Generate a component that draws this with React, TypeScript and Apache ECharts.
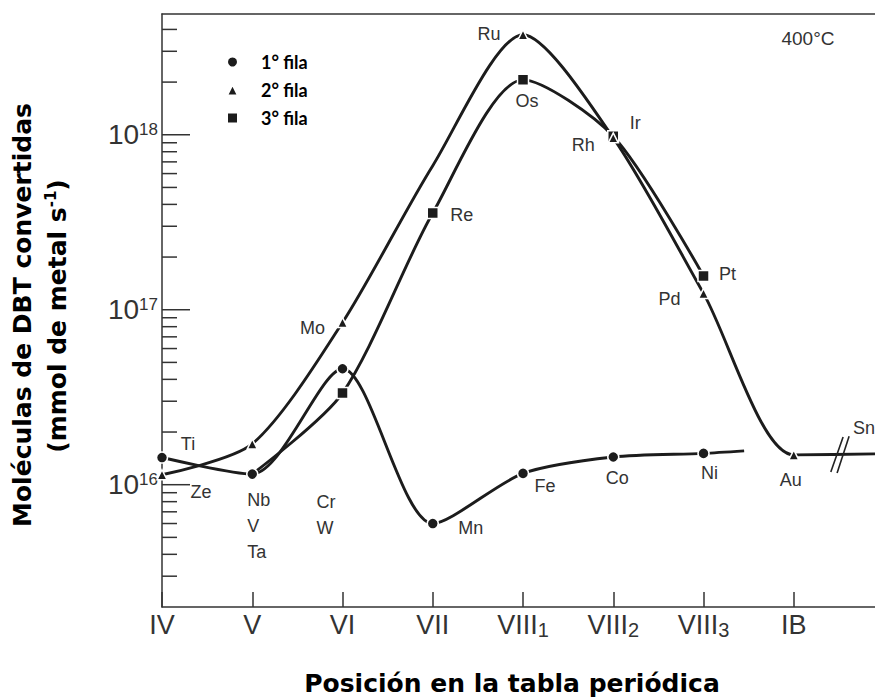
import React, { useEffect, useRef } from 'react';
import * as echarts from 'echarts';

// Groups of the periodic table (x axis)
const groupNames = ['IV', 'V', 'VI', 'VII', 'VIII', 'VIII', 'VIII', 'IB'];
const groupSubs = ['', '', '', '', '1', '2', '3', ''];
const groupPositions = [0, 1, 2, 3, 4, 5, 6, 7];

// 1° fila
const row1Pos = [0, 1, 2, 3, 4, 5, 6, 6.45];
const row1Values = [1.43e16, 1.15e16, 4.6e16, 6.0e15, 1.16e16, 1.44e16, 1.51e16, 1.56e16];
const row1Labels = ['Ti', 'Nb\nV\nTa', '', 'Mn', 'Fe', 'Co', 'Ni', ''];
const row1Hidden = [false, false, false, false, false, false, false, true];

// 2° fila
const row2Pos = [0, 1, 2, 3, 4, 5, 6, 7, 7.9];
const row2Values = [1.14e16, 1.71e16, 8.45e16, 6.66e17, 3.73e18, 9.6e17, 1.24e17, 1.48e16, 1.5e16];
const row2Labels = ['Ze', '', 'Mo', '', 'Ru', 'Rh', 'Pd', 'Au', 'Sn'];
const row2Hidden = [false, false, false, true, false, false, false, false, true];

// 3° fila
const row3Pos = [1, 2, 3, 4, 5, 6];
const row3Values = [1.15e16, 3.34e16, 3.57e17, 2.06e18, 9.8e17, 1.56e17];
const row3Labels = ['', 'Cr\nW', 'Re', 'Os', 'Ir', 'Pt'];
const row3Hidden = [true, false, false, false, false, false];

const seriesNames = ['1° fila', '2° fila', '3° fila'];

// axis extents
const X_MAX = 7.9;
const Y_MIN = 2e15;
const Y_MAX = 4.9e18;

// axis break mark
const breakPos = 7.51;
const breakValue = 1.49e16;

// label layout (pixel offsets from the point, and alignment)
const row1Offsets: any[] = [[26, -14], [-5, 52], null, [38, 4], [22, 13], [4, 21], [6, 20], null];
const row1Align = ['center', 'left', 'center', 'center', 'center', 'center', 'center', 'center'];
const row2Offsets: any[] = [[39, 17], null, [-30, 5], null, [-34, -1], [-30, 7], [-34, 6], [-3, 25], [-22, -26]];
const row2Align = ['center', 'center', 'center', 'center', 'center', 'center', 'center', 'center', 'left'];
const row3Offsets: any[] = [null, [-26, 122], [29, 2], [4, 21], [22, -13], [24, -2]];
const row3Align = ['center', 'left', 'center', 'center', 'center', 'center'];

const INK = '#1c1c1c';
const TEXT = '#333';

function buildData(pos: number[], vals: number[], labels: string[], offsets: any[], aligns: string[], hidden: boolean[]) {
  return pos.map((x, i) => {
    const item: any = { value: [x, vals[i]] };
    if (hidden[i]) {
      item.symbolSize = 1;
      item.itemStyle = { color: 'rgba(0,0,0,0)', borderWidth: 0 };
    }
    if (labels[i]) {
      item.label = {
        show: true,
        formatter: labels[i],
        position: 'inside',
        offset: offsets[i],
        align: aligns[i],
        verticalAlign: 'middle',
      };
    }
    return item;
  });
}

function yTickData() {
  const out: number[][] = [];
  for (let k = 15; k <= 18; k++) {
    for (let m = 1; m <= 9; m++) {
      const v = m * Math.pow(10, k);
      if (v > Y_MIN * 1.01 && v < Y_MAX) out.push([0, v, m === 1 ? 1 : 0]);
    }
  }
  return out;
}

export default function App() {
  const ref = useRef<HTMLDivElement>(null);
  useEffect(() => {
    document.body.style.margin = '0';
    const chart = echarts.init(ref.current!, null, { renderer: 'svg' });
    const labelBase = {
      show: false,
      color: TEXT,
      fontSize: 18,
      fontFamily: 'Liberation Sans, Arial, sans-serif',
      lineHeight: 26,
    };
    const lineBase = {
      type: 'line',
      smooth: 0.27,
      lineStyle: { color: INK, width: 2.9 },
      itemStyle: { color: INK, borderColor: '#fff', borderWidth: 1.5 },
      label: labelBase,
      emphasis: { disabled: true },
      z: 3,
    };
    const option: any = {
      animation: false,
      backgroundColor: '#fff',
      grid: { left: 162, right: 0, top: 14, bottom: 91, containLabel: false },
      legend: {
        data: [
          { name: seriesNames[0], icon: 'circle' },
          { name: seriesNames[1], icon: 'triangle' },
          { name: seriesNames[2], icon: 'rect' },
        ],
        orient: 'vertical',
        left: 221,
        top: 48,
        itemWidth: 11,
        itemHeight: 11,
        itemGap: 10,
        selectedMode: false,
        textStyle: {
          fontFamily: 'Lato, sans-serif',
          fontWeight: 'bold',
          fontSize: 18,
          color: '#000',
          lineHeight: 16,
          padding: [0, 0, 0, 18],
        },
      },
      xAxis: [
        {
          type: 'value',
          min: 0,
          max: X_MAX,
          interval: 1,
          position: 'bottom',
          splitLine: { show: false },
          axisLine: { show: true, lineStyle: { color: '#333', width: 1.5 } },
          axisTick: { show: true, inside: true, length: 15, customValues: groupPositions, lineStyle: { color: '#333', width: 1.5 } },
          axisLabel: {
            customValues: groupPositions,
            margin: 3,
            formatter: (v: number) => {
              const i = Math.round(v);
              if (Math.abs(v - i) > 1e-6 || i < 0 || i >= groupNames.length) return '';
              return groupSubs[i] ? `{m|${groupNames[i]}}{s|${groupSubs[i]}}` : `{m|${groupNames[i]}}`;
            },
            rich: {
              m: { fontSize: 27, lineHeight: 30, color: TEXT, fontFamily: 'Liberation Sans, Arial, sans-serif' },
              s: { fontSize: 20, lineHeight: 8, verticalAlign: 'bottom', color: TEXT, fontFamily: 'Liberation Sans, Arial, sans-serif' },
            },
          },
        },
        {
          type: 'value',
          min: 0,
          max: X_MAX,
          position: 'top',
          splitLine: { show: false },
          axisLine: { show: true, lineStyle: { color: '#333', width: 1.5 } },
          axisTick: { show: false },
          axisLabel: { show: false },
        },
      ],
      yAxis: {
        type: 'log',
        logBase: 10,
        min: Y_MIN,
        max: Y_MAX,
        splitLine: { show: false },
        axisLine: { show: true, lineStyle: { color: '#333', width: 1.5 } },
        axisTick: { show: false },
        axisLabel: {
          margin: 4,
          formatter: (v: number) => {
            const e = Math.log10(v);
            const r = Math.round(e);
            if (Math.abs(e - r) > 1e-6) return '';
            return `{b|10}{s|${r}}`;
          },
          rich: {
            b: { fontSize: 28, lineHeight: 28, color: TEXT, fontFamily: 'Liberation Sans, Arial, sans-serif' },
            s: { fontSize: 17, lineHeight: 16, verticalAlign: 'top', color: TEXT, fontFamily: 'Liberation Sans, Arial, sans-serif' },
          },
        },
      },
      series: [
        {
          ...lineBase,
          name: seriesNames[2],
          symbol: 'rect',
          symbolSize: 11,
          data: buildData(row3Pos, row3Values, row3Labels, row3Offsets, row3Align, row3Hidden),
        },
        {
          ...lineBase,
          name: seriesNames[1],
          symbol: 'triangle',
          symbolSize: 10,
          data: buildData(row2Pos, row2Values, row2Labels, row2Offsets, row2Align, row2Hidden),
        },
        {
          ...lineBase,
          name: seriesNames[0],
          symbol: 'circle',
          symbolSize: 11,
          data: buildData(row1Pos, row1Values, row1Labels, row1Offsets, row1Align, row1Hidden),
        },
        {
          type: 'custom',
          name: 'yticks',
          silent: true,
          clip: false,
          z: 4,
          data: yTickData(),
          renderItem: (params: any, api: any) => {
            const p = api.coord([0, api.value(1)]);
            const len = api.value(2) ? 28 : 15;
            return {
              type: 'line',
              shape: { x1: p[0], y1: p[1], x2: p[0] + len, y2: p[1] },
              style: { stroke: '#333', lineWidth: 1.5 },
            };
          },
        },
        {
          type: 'custom',
          name: 'break',
          silent: true,
          clip: false,
          z: 5,
          data: [[breakPos, breakValue]],
          renderItem: (params: any, api: any) => {
            const c = api.coord([api.value(0), api.value(1)]);
            const st = { stroke: '#222', lineWidth: 1.6 };
            return {
              type: 'group',
              children: [
                { type: 'line', shape: { x1: c[0] - 9, y1: c[1] + 17.5, x2: c[0] + 3.3, y2: c[1] - 17.5 }, style: st },
                { type: 'line', shape: { x1: c[0] - 2.7, y1: c[1] + 18.5, x2: c[0] + 9.3, y2: c[1] - 18.2 }, style: st },
              ],
            };
          },
        },
      ],
      graphic: [
        {
          type: 'text',
          x: 22,
          y: 315,
          rotation: Math.PI / 2,
          style: {
            text: 'Moléculas de DBT convertidas',
            font: 'bold 25px "DejaVu Sans", sans-serif',
            fill: '#000',
            align: 'center',
            verticalAlign: 'middle',
          },
        },
        {
          type: 'text',
          x: 57,
          y: 316,
          rotation: Math.PI / 2,
          style: {
            text: '{n|(mmol de metal s}{p|-1}{n|)}',
            align: 'center',
            verticalAlign: 'middle',
            rich: {
              n: { fontSize: 25, fontWeight: 'bold', fontFamily: 'DejaVu Sans, sans-serif', fill: '#000', lineHeight: 28 },
              p: { fontSize: 15, fontWeight: 'bold', fontFamily: 'DejaVu Sans, sans-serif', fill: '#000', verticalAlign: 'top', lineHeight: 16 },
            },
          },
        },
        {
          type: 'text',
          x: 512,
          y: 683,
          style: {
            text: 'Posición en la tabla periódica',
            font: 'bold 25px "DejaVu Sans", sans-serif',
            fill: '#000',
            align: 'center',
            verticalAlign: 'middle',
          },
        },
        {
          type: 'text',
          x: 808,
          y: 38,
          style: {
            text: '400°C',
            font: '19px "Liberation Sans", Arial, sans-serif',
            fill: TEXT,
            align: 'center',
            verticalAlign: 'middle',
          },
        },
      ],
    };
    chart.setOption(option);
    return () => chart.dispose();
  }, []);
  return <div ref={ref} style={{ width: 875, height: 698 }} />;
}
